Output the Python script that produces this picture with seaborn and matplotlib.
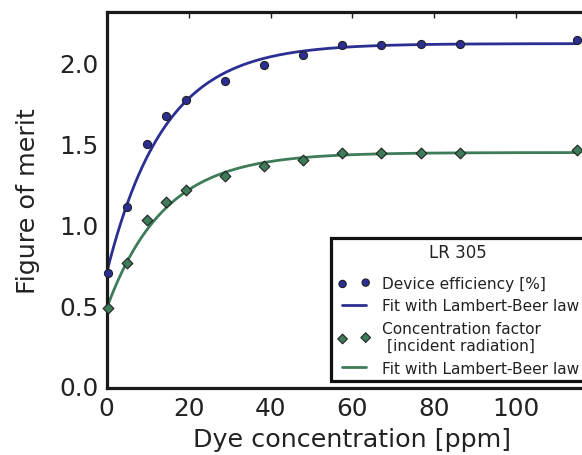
import numpy as np
import pandas as pd
import matplotlib
matplotlib.use("Agg")
import matplotlib.pyplot as plt
import seaborn as sns
from matplotlib.collections import PathCollection
from matplotlib.lines import Line2D
from matplotlib.legend_handler import HandlerPathCollection, HandlerLine2D

# ---- data ----
concentration = [0.2, 5.0, 9.9, 14.5, 19.4, 28.9, 38.4, 48.0, 57.5, 67.0, 76.7, 86.2, 114.8]
device_efficiency = [0.70, 1.11, 1.50, 1.67, 1.77, 1.89, 1.99, 2.05, 2.11, 2.11, 2.12, 2.12, 2.14]
concentration_factor = [0.48, 0.76, 1.03, 1.14, 1.21, 1.30, 1.36, 1.40, 1.44, 1.44, 1.445, 1.445, 1.46]

# Lambert-Beer fit parameters (y = a - b * exp(-c / k))
fit_eff = dict(a=2.12, b=1.42, k=14.0)
fit_cf = dict(a=1.445, b=0.965, k=14.0)

labels = ["Device efficiency [%]", "Fit with Lambert-Beer law",
          "Concentration factor\n [incident radiation]", "Fit with Lambert-Beer law"]
legend_title = "LR 305"
xlabel = "Dye concentration [ppm]"
ylabel = "Figure of merit"
xticks = [0, 20, 40, 60, 80, 100]
yticks = [0.0, 0.5, 1.0, 1.5, 2.0]

blue = "#2b2e92"
green = "#3d7b59"

sns.set_style("white")
plt.rcParams["font.family"] = ["DejaVu Sans"]

fig = plt.figure(figsize=(5.82, 4.56), dpi=100)
W = 582.0
H = 456.0
left = 106.7 / W
width = (81.9 / 20 * 120) / W
bottom = (H - 389.0) / H
top = 1 - 13.3 / H
ax = fig.add_axes([left, bottom, width, top - bottom])

cgrid = np.linspace(0, concentration[-1], 400)
df_fit = pd.DataFrame({
    "c": cgrid,
    "eff": fit_eff["a"] - fit_eff["b"] * np.exp(-cgrid / fit_eff["k"]),
    "cf": fit_cf["a"] - fit_cf["b"] * np.exp(-cgrid / fit_cf["k"]),
})
df = pd.DataFrame({"c": concentration, "eff": device_efficiency, "cf": concentration_factor})

sns.lineplot(data=df_fit, x="c", y="eff", ax=ax, color=blue, lw=2.0, label=labels[1], zorder=2)
sns.lineplot(data=df_fit, x="c", y="cf", ax=ax, color=green, lw=2.0, label=labels[3], zorder=2)
sns.scatterplot(data=df, x="c", y="eff", ax=ax, color=blue, marker="o", s=34,
                edgecolor="#222222", linewidth=0.8, label=labels[0], zorder=3, clip_on=False)
sns.scatterplot(data=df, x="c", y="cf", ax=ax, color=green, marker="D", s=30,
                edgecolor="#222222", linewidth=0.8, label=labels[2], zorder=3, clip_on=False)

ax.set_xlim(0, 120)
ax.set_ylim(-0.014, 2.314)
ax.set_xticks(xticks)
ax.set_yticks(yticks)
ax.set_yticklabels([f"{v:.1f}" for v in yticks])
ax.tick_params(direction="in", length=4, width=1, labelsize=17.8, top=True, right=True,
               colors="#222222", labelcolor="#222222", pad=6)
for s in ax.spines.values():
    s.set_linewidth(2.3)
    s.set_color("#1a1a1a")
ax.set_xlabel(xlabel, fontsize=18.3, color="#222222", labelpad=5)
ax.set_ylabel(ylabel, fontsize=18.3, color="#222222", labelpad=14)

h, l = ax.get_legend_handles_labels()
hd = {}
for hh, ll in zip(h, l):
    hd.setdefault(ll, []).append(hh)
handles = [hd[labels[0]][0], hd[labels[1]][0], hd[labels[2]][0], hd[labels[3]][1]]
leg = ax.legend(handles, labels, title=legend_title, loc="lower left",
                bbox_to_anchor=(331 / W, (H - 382) / H), bbox_transform=fig.transFigure,
                borderaxespad=0, scatterpoints=2, markerscale=0.9, fontsize=11.1,
                title_fontsize=12, frameon=True, fancybox=False, framealpha=1.0,
                handlelength=1.95, labelspacing=0.48, handletextpad=1.0, borderpad=0.35,
                handler_map={PathCollection: HandlerPathCollection(marker_pad=0.05, xpad=0.35),
                             Line2D: HandlerLine2D(xpad=0.35)})
# extra gap between the legend title and its entries
leg._legend_box.sep = 10.5
leg.get_frame().set_edgecolor("#111111")
leg.get_frame().set_linewidth(2.3)
for t in leg.get_texts():
    t.set_color("#222222")
leg.get_title().set_color("#222222")

fig.savefig("out.png", dpi=100)
